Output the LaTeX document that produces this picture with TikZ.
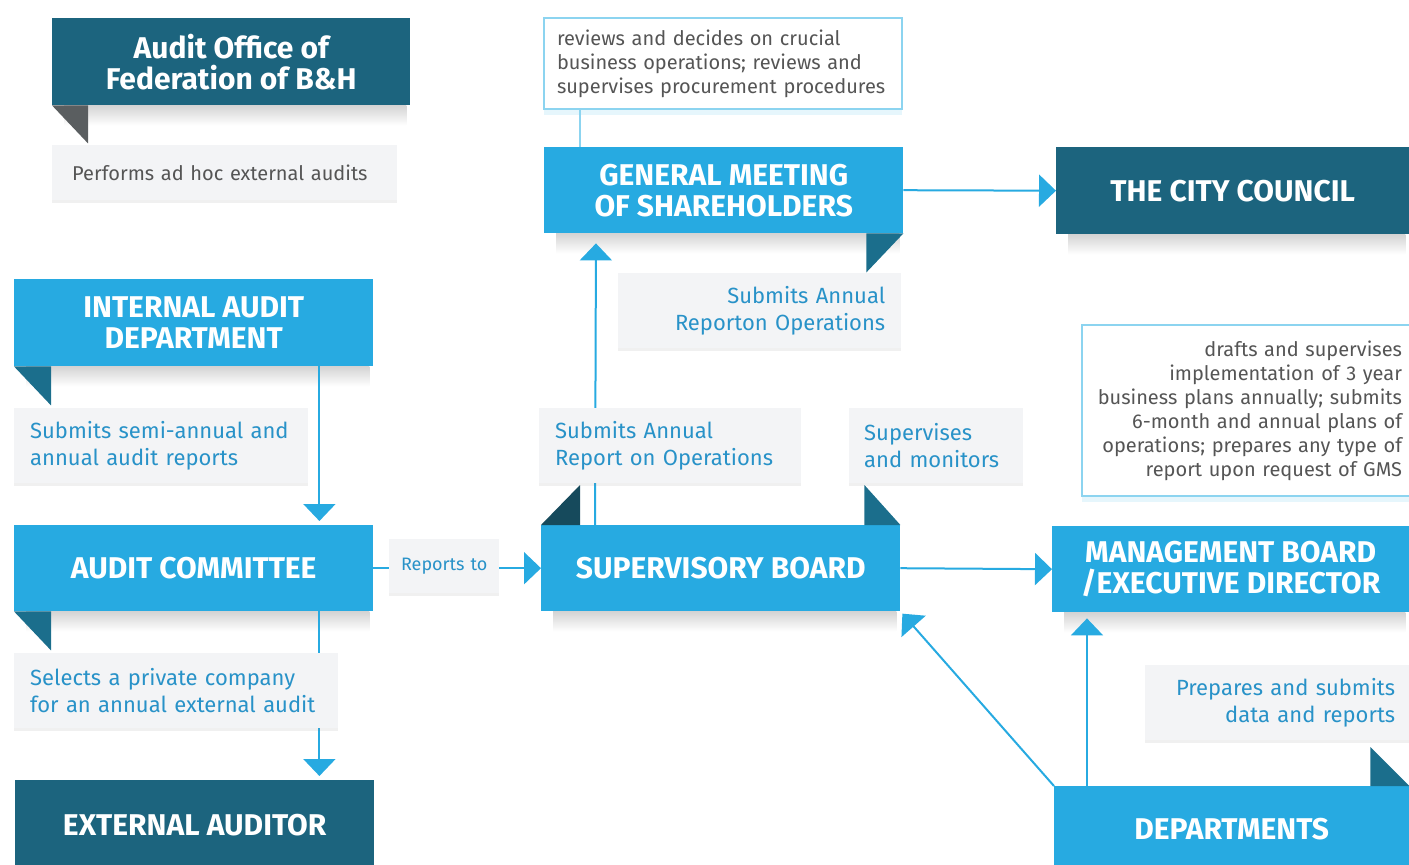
\documentclass[tikz,border=0pt]{standalone}
\usepackage{fontspec}
\setmainfont{Fira Sans}
\usetikzlibrary{arrows.meta,calc,shadows}
\definecolor{sky}{RGB}{39,170,225}
\definecolor{deepteal}{RGB}{28,100,126}
\definecolor{foldteal}{RGB}{27,110,140}
\definecolor{folddark}{RGB}{22,74,92}
\definecolor{foldgray}{RGB}{90,94,96}
\definecolor{tagbg}{RGB}{243,244,246}
\definecolor{tagtext}{RGB}{40,146,200}
\definecolor{notetext}{RGB}{85,85,85}
\definecolor{noteline}{RGB}{140,212,240}
\newcommand{\widthbox}{359pt}
\newcommand{\heightbox}{87pt}
% soft shadow under a box
\newcommand{\boxshadow}[1]{
    \shade[top color=black!17, bottom color=white]
        ($(#1.south west)+(12,0)$) rectangle ($(#1.south east)+(-4,20)$);
}
\tikzset{
    common/.style={anchor=north west, rectangle, inner sep=0pt, minimum width=\widthbox,
        minimum height=\heightbox, text=white, align=center,
        font=\fontsize{30}{31}\selectfont\bfseries},
    lightbox/.style={common, fill=sky},
    darkbox/.style={common, fill=deepteal},
    tag/.style={anchor=north west, fill=tagbg, text=tagtext, inner xsep=16pt, inner ysep=0pt,
        font=\fontsize{22}{27}\selectfont, minimum height=75pt,
        drop shadow={shadow xshift=0pt, shadow yshift=-3pt, opacity=.12}},
    note/.style={anchor=north west, draw=noteline, line width=2pt, fill=white, text=notetext,
        inner xsep=12pt, inner ysep=0pt, font=\fontsize{20}{24}\selectfont,
        drop shadow={shadow xshift=0pt, shadow yshift=-6pt, opacity=1, fill=noteline!22}},
    link/.style={sky, line width=2pt},
    head/.style={-{Triangle[width=32pt,length=17pt]}},
}
\begin{document}
\begin{tikzpicture}[x=1pt, y=-1pt]
    \useasboundingbox (0,0) rectangle (1409,865);

    % main boxes
    \node[darkbox, minimum width=358pt] (auditoffice) at (52,18) {Audit Office of\\Federation of B\&H};
    \node[lightbox, minimum height=86pt] (gms) at (544,147) {GENERAL MEETING\\OF SHAREHOLDERS};
    \node[darkbox, minimum width=353pt] (city) at (1056,147) {THE CITY COUNCIL};
    \node[lightbox] (iad) at (14,279) {INTERNAL AUDIT\\DEPARTMENT};
    \node[lightbox, minimum height=86pt] (ac) at (14,525) {AUDIT COMMITTEE};
    \node[lightbox, minimum height=86pt] (sb) at (541,525) {SUPERVISORY BOARD};
    \node[lightbox, minimum width=357pt, minimum height=86pt] (mb) at (1052,526) {MANAGEMENT BOARD\\/EXECUTIVE DIRECTOR};
    \node[darkbox, minimum height=90pt] (ea) at (15,780) {EXTERNAL AUDITOR};
    \node[lightbox, minimum width=355pt, minimum height=85pt] (dep) at (1054,786) {DEPARTMENTS};

    \boxshadow{auditoffice}
    \boxshadow{gms}
    \boxshadow{city}
    \boxshadow{iad}
    \boxshadow{ac}
    \boxshadow{sb}
    \boxshadow{mb}

    % folded corners
    \fill[foldgray] (auditoffice.south west) -- ++(36,0) -- ++(0,38) -- cycle;
    \fill[foldteal] (gms.south east) -- ++(-37,0) -- ++(0,39) -- cycle;
    \fill[foldteal] (iad.south west) -- ++(37,0) -- ++(0,39) -- cycle;
    \fill[foldteal] (ac.south west) -- ++(37,0) -- ++(0,39) -- cycle;
    \fill[folddark] (sb.north west) -- ++(39,0) -- ++(0,-40) -- cycle;
    \fill[foldteal] (sb.north east) -- ++(-36,0) -- ++(0,-40) -- cycle;
    \fill[foldteal] (dep.north east) -- ++(-39,0) -- ++(0,-39) -- cycle;

    % connectors
    \draw[link, head] (gms.east) -- (city.west);
    \draw[link, head, shorten >=4pt] ([xshift=-54pt]iad.south east) -- ([xshift=-54pt]ac.north east);
    \draw[link, head, shorten >=4pt] ([xshift=-54pt]ac.south east) -- ([xshift=-55pt]ea.north east);
    \draw[link, head] (ac.east) -- (sb.west);
    \draw[link, head, shorten >=10pt] ([xshift=54pt]sb.north west) -- ([xshift=52pt]gms.south west);
    \draw[link, head] (sb.east) -- (mb.west);
    \draw[link, head, shorten >=6pt] ([xshift=33pt]dep.north west) -- ([xshift=35pt]mb.south west);
    \draw[link, head, shorten >=3pt] (dep.north west) -- (sb.south east);

    % notes
    \node[note, minimum width=358pt, minimum height=91pt, text width=332pt, align=left] (gmsnote) at (543,17)
        {reviews and decides on crucial\\business operations; reviews and\\supervises procurement procedures};
    \draw[noteline, line width=2pt] ([xshift=37pt]gmsnote.south west) -- ([xshift=36pt]gms.north west);
    \node[note, minimum width=332pt, minimum height=171pt, text width=308pt, inner xsep=10pt, align=right] (mbnote) at (1081,324)
        {drafts and supervises\\implementation of 3 year\\business plans annually; submits\\6-month and annual plans of\\operations; prepares any type of\\report upon request of GMS};

    % labels on the connectors
    \node[tag, text=notetext, font=\fontsize{20}{24}\selectfont, minimum height=55pt,
        text width=305pt, inner xsep=20pt, align=left] (adhoc) at (52,145) {Performs ad hoc external audits};
    \node[tag, text width=251pt, inner xsep=16pt, align=right] (gmstag) at (618,273)
        {Submits Annual\\Reporton Operations};
    \node[tag, text width=262pt, inner xsep=16pt, align=left] (iadtag) at (14,408)
        {Submits semi-annual and\\annual audit reports};
    \node[tag, text width=292pt, inner xsep=16pt, align=left] (actag) at (14,653)
        {Selects a private company\\for an annual external audit};
    \node[tag, text width=230pt, inner xsep=16pt, align=left] (sbtag) at (539,408)
        {Submits Annual\\Report on Operations};
    \node[tag, text width=144pt, inner xsep=15pt, align=left] (suptag) at (849,408)
        {Supervises\\and monitors};
    \node[tag, font=\fontsize{18}{22}\selectfont, minimum height=54pt, text width=98pt, inner xsep=6pt,
        align=center] (reports) at (389,539) {Reports to};
    \node[tag, text width=234pt, inner xsep=16pt, align=right] (deptag) at (1145,665)
        {Prepares and submits\\data and reports};
\end{tikzpicture}
\end{document}
